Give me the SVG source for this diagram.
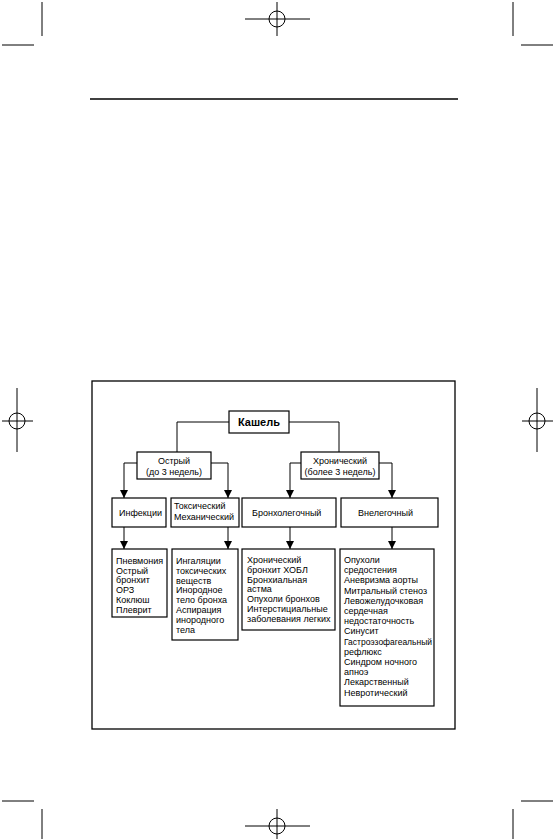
<svg xmlns="http://www.w3.org/2000/svg" width="555" height="839" viewBox="0 0 555 839">
<defs>
<marker id="arr" markerWidth="8" markerHeight="8" refX="8" refY="4" orient="auto" markerUnits="userSpaceOnUse">
<path d="M0,0 L8,4 L0,8 Z" fill="#000"/>
</marker>
<style>
.mark{stroke:#000;stroke-width:1;fill:none}
.box{fill:#fff;stroke:#000;stroke-width:1.2}
.ln{stroke:#000;stroke-width:1;fill:none}
.t{font-family:"Liberation Sans",Arial,sans-serif;font-size:9px;fill:#000}
.tc{text-anchor:middle}
.big{font-size:11px;font-weight:bold}
</style>
</defs>
<rect width="555" height="839" fill="#fff"/>
<g id="printmarks">
<line class="mark" x1="42" y1="2" x2="42" y2="36"/>
<line class="mark" x1="2" y1="45" x2="34" y2="45"/>
<line class="mark" x1="513" y1="2" x2="513" y2="36"/>
<line class="mark" x1="521" y1="45" x2="553" y2="45"/>
<circle class="mark" cx="277" cy="19" r="8"/>
<line class="mark" x1="245" y1="19" x2="310" y2="19"/>
<line class="mark" x1="277" y1="2" x2="277" y2="36"/>
<line class="mark" x1="2" y1="801" x2="34" y2="801"/>
<line class="mark" x1="42" y1="809" x2="42" y2="839"/>
<line class="mark" x1="521" y1="801" x2="553" y2="801"/>
<line class="mark" x1="513" y1="809" x2="513" y2="839"/>
<circle class="mark" cx="277" cy="826" r="8"/>
<line class="mark" x1="245" y1="826" x2="310" y2="826"/>
<line class="mark" x1="277" y1="809" x2="277" y2="839"/>
<circle class="mark" cx="17" cy="421" r="8"/>
<line class="mark" x1="2" y1="421" x2="33" y2="421"/>
<line class="mark" x1="17" y1="388" x2="17" y2="452"/>
<circle class="mark" cx="537" cy="421" r="8"/>
<line class="mark" x1="522" y1="421" x2="553" y2="421"/>
<line class="mark" x1="537" y1="388" x2="537" y2="452"/>
<line x1="90" y1="99" x2="458" y2="99" stroke="#000" stroke-width="1.3"/>
</g>
<rect id="frame" x="92" y="381" width="363" height="348" fill="none" stroke="#000" stroke-width="1.3"/>
<g id="connectors">
<polyline class="ln" points="229,422 177,422 177,452"/>
<polyline class="ln" points="289,422 339,422 339,452"/>
<polyline class="ln" points="137,463 124,463 124,498" marker-end="url(#arr)"/>
<polyline class="ln" points="211,463 228,463 228,498" marker-end="url(#arr)"/>
<polyline class="ln" points="301,463 290,463 290,498" marker-end="url(#arr)"/>
<polyline class="ln" points="379,463 392,463 392,498" marker-end="url(#arr)"/>
<line class="ln" x1="124" y1="527" x2="124" y2="549" marker-end="url(#arr)"/>
<line class="ln" x1="228" y1="527" x2="228" y2="549" marker-end="url(#arr)"/>
<line class="ln" x1="290" y1="527" x2="290" y2="549" marker-end="url(#arr)"/>
<line class="ln" x1="392" y1="527" x2="392" y2="549" marker-end="url(#arr)"/>
</g>
<g id="kashel">
<rect class="box" x="229" y="411" width="60" height="22"/>
<text class="t tc big" x="259" y="426">Кашель</text>
</g>
<g id="ostryi">
<rect class="box" x="137" y="452" width="74" height="27"/>
<text class="t tc" x="174" y="464">Острый</text>
<text class="t tc" x="174" y="475">(до 3 недель)</text>
</g>
<g id="chronic">
<rect class="box" x="301" y="452" width="78" height="27"/>
<text class="t tc" x="340" y="464">Хронический</text>
<text class="t tc" x="340" y="475">(более 3 недель)</text>
</g>
<g id="infekcii">
<rect class="box" x="112" y="498" width="54" height="29"/>
<text class="t" x="119" y="516">Инфекции</text>
</g>
<g id="toksich">
<rect class="box" x="171" y="498" width="68" height="29"/>
<text class="t" x="174" y="509">Токсический</text>
<text class="t" x="174" y="520">Механический</text>
</g>
<g id="bronholeg">
<rect class="box" x="242" y="498" width="94" height="29"/>
<text class="t" x="252" y="516">Бронхолегочный</text>
</g>
<g id="vneleg">
<rect class="box" x="341" y="498" width="97" height="29"/>
<text class="t" x="358" y="516">Внелегочный</text>
</g>
<g id="list-infekcii">
<rect class="box" x="112" y="549" width="55" height="68"/>
<text class="t" x="116" y="564">Пневмония</text>
<text class="t" x="116" y="573.7">Острый</text>
<text class="t" x="116" y="583.4">бронхит</text>
<text class="t" x="116" y="593.1">ОРЗ</text>
<text class="t" x="116" y="602.8">Коклюш</text>
<text class="t" x="116" y="612.5">Плеврит</text>
</g>
<g id="list-toksich">
<rect class="box" x="172" y="549" width="66" height="91"/>
<text class="t" x="176" y="564">Ингаляции</text>
<text class="t" x="176" y="573.8">токсических</text>
<text class="t" x="176" y="583.6">веществ</text>
<text class="t" x="176" y="593.4">Инородное</text>
<text class="t" x="176" y="603.2">тело бронха</text>
<text class="t" x="176" y="613">Аспирация</text>
<text class="t" x="176" y="622.8">инородного</text>
<text class="t" x="176" y="632.6">тела</text>
</g>
<g id="list-bronholeg">
<rect class="box" x="242" y="549" width="93" height="81"/>
<text class="t" x="247" y="563">Хронический</text>
<text class="t" x="247" y="572.8">бронхит ХОБЛ</text>
<text class="t" x="247" y="582.6">Бронхиальная</text>
<text class="t" x="247" y="592.4">астма</text>
<text class="t" x="247" y="602.2">Опухоли бронхов</text>
<text class="t" x="247" y="612">Интерстициальные</text>
<text class="t" x="247" y="621.8">заболевания легких</text>
</g>
<g id="list-vneleg">
<rect class="box" x="340" y="549" width="94" height="157"/>
<text class="t" x="344" y="563">Опухоли</text>
<text class="t" x="344" y="573.2">средостения</text>
<text class="t" x="344" y="583.4">Аневризма аорты</text>
<text class="t" x="344" y="593.6">Митральный стеноз</text>
<text class="t" x="344" y="603.8">Левожелудочковая</text>
<text class="t" x="344" y="614">сердечная</text>
<text class="t" x="344" y="624.2">недостаточность</text>
<text class="t" x="344" y="634.4">Синусит</text>
<text class="t" x="344" y="644.6" textLength="88" lengthAdjust="spacingAndGlyphs">Гастроэзофагеальный</text>
<text class="t" x="344" y="654.8">рефлюкс</text>
<text class="t" x="344" y="665">Синдром ночного</text>
<text class="t" x="344" y="675.2">апноэ</text>
<text class="t" x="344" y="685.4">Лекарственный</text>
<text class="t" x="344" y="695.6">Невротический</text>
</g>
</svg>
